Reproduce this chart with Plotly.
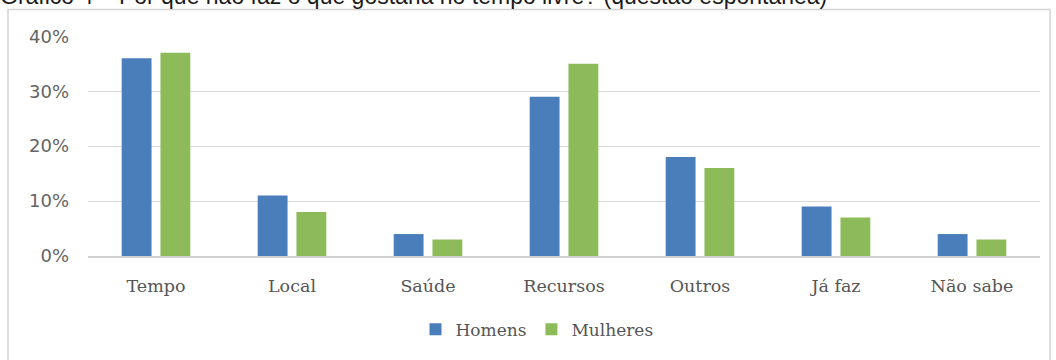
import plotly.graph_objects as go

categories = ["Tempo", "Local", "Saúde", "Recursos", "Outros", "Já faz", "Não sabe"]
homens = [0.36, 0.11, 0.04, 0.29, 0.18, 0.09, 0.04]
mulheres = [0.37, 0.08, 0.03, 0.35, 0.16, 0.07, 0.03]
y_ticks = [0, 0.1, 0.2, 0.3, 0.4]
title_text = "Gráfico 4 – Por que não faz o que gostaria no tempo livre? (questão espontânea)"

W, H = 1056, 360
L, R, T, B = 88, 16, 36, 100
pw, ph = W - L - R, H - T - B

def px_x(x):
    return (x - L) / pw

def px_y(y):
    return (H - B - y) / ph

fig = go.Figure()
fig.add_trace(go.Bar(x=categories, y=homens, name="Homens", marker_color="#4A7EBB",
                     marker_line_width=0))
fig.add_trace(go.Bar(x=categories, y=mulheres, name="Mulheres", marker_color="#8DBB5A",
                     marker_line_width=0))

fig.update_layout(
    width=W, height=H,
    margin=dict(l=L, r=R, t=T, b=B, pad=0),
    paper_bgcolor="white", plot_bgcolor="white",
    barmode="group", bargap=0.43, bargroupgap=0.23,
    showlegend=True,
    legend=dict(orientation="h", x=px_x(537), xanchor="center", y=px_y(335), yanchor="middle",
                font=dict(family="DejaVu Serif", size=17, color="#555555"),
                itemwidth=30, traceorder="normal", bgcolor="rgba(0,0,0,0)"),
    font=dict(family="DejaVu Sans", color="#595959"),
    shapes=[dict(type="rect", xref="paper", yref="paper",
                 x0=px_x(8), x1=px_x(1050), y0=px_y(372), y1=px_y(9),
                 line=dict(color="#d4d4d4", width=1.5), fillcolor="rgba(0,0,0,0)", layer="below")],
    annotations=[dict(text=title_text, xref="paper", yref="paper", x=px_x(-2), y=px_y(11),
                      xanchor="left", yanchor="bottom", showarrow=False,
                      font=dict(family="Liberation Sans", size=23, color="#1a1a1a"))],
)
fig.update_xaxes(showgrid=False, showline=True, linecolor="#d0d0d0", linewidth=1.5,
                 ticks="", ticklabelstandoff=13,
                 tickfont=dict(family="DejaVu Serif", size=17.5, color="#555555"))
fig.update_yaxes(range=[0, 0.4005], tickvals=y_ticks, tickformat=".0%",
                 showgrid=True, gridcolor="#d9d9d9", gridwidth=1.3, zeroline=False,
                 showline=False, ticks="", ticklabelstandoff=18,
                 tickfont=dict(family="DejaVu Sans", size=18, color="#646464"))

fig.write_html("out.html")
